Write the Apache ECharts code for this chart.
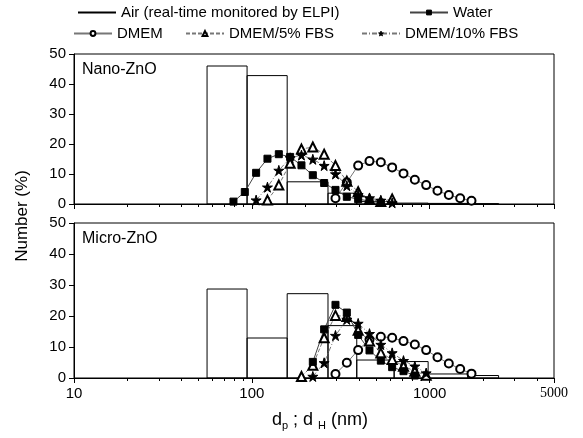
<!DOCTYPE html>
<html>
<head>
<meta charset="utf-8">
<script src="https://cdn.jsdelivr.net/npm/echarts@6/dist/echarts.min.js"></script>
<style>
  html, body { margin: 0; padding: 0; background: #fff; }
  #chart { width: 583px; height: 438px; }
</style>
</head>
<body>
<div id="chart"></div>
<script>
var chart = echarts.init(document.getElementById('chart'));

// ELPI stage edges (nm) and the air histogram heights (%)
var elpiEdges = [56, 94, 158, 268, 389, 631, 980, 1640, 2440];
var nanoAir = [46.0, 42.8, 7.4, 3.6, 0.8, 0.3, 0.2, 0.1];
var microAir = [28.7, 12.9, 27.2, 16.9, 5.8, 5.3, 1.3, 0.8];

// DLS size classes (nm)
var dlsSizes = [78.82, 91.28, 105.7, 122.4, 141.8, 164.2, 190.1, 220.2, 255.0, 295.3, 342.0,
  396.1, 458.7, 531.2, 615.1, 712.4, 825.0, 955.4, 1106, 1281, 1484, 1718];

// each series: first size class index + values (%)
var nanoWaterStart = 0, nanoWater = [0.8, 4.0, 10.4, 15.1, 16.6, 15.7, 12.9, 9.6, 7.0, 4.7, 2.4, 1.6, 1.0, 0.4];
var nanoDmemStart = 9, nanoDmem = [1.9, 7.2, 12.8, 14.3, 13.9, 12.2, 10.2, 8.1, 6.3, 4.4, 3.0, 1.9, 1.1];
var nanoFbs5Start = 3, nanoFbs5 = [1.3, 6.3, 13.6, 18.3, 19.0, 16.6, 12.8, 7.6, 4.1, 1.6, 0.8, 1.7];
var nanoFbs10Start = 2, nanoFbs10 = [1.3, 5.6, 11.2, 15.4, 16.3, 14.9, 12.8, 10.0, 6.1, 3.1, 2.0, 1.2, 0.4];

var microWaterStart = 7, microWater = [5.2, 15.7, 23.6, 21.1, 13.9, 8.9, 5.6, 3.5, 2.2, 0.8];
var microDmemStart = 9, microDmem = [1.3, 4.9, 9.0, 12.4, 13.3, 13.0, 11.9, 10.8, 9.0, 6.7, 4.7, 2.9, 1.4];
var microFbs5Start = 6, microFbs5 = [0.5, 4.1, 13.0, 20.2, 19.8, 15.4, 11.9, 8.1, 6.0, 3.8, 2.2, 0.9];
var microFbs10Start = 7, microFbs10 = [0.5, 4.9, 13.7, 18.9, 17.6, 14.3, 10.8, 8.1, 5.6, 3.8, 1.6];

var xLabels = [10, 100, 1000, 5000];
var xMinor = [20, 30, 40, 50, 60, 70, 80, 90, 200, 300, 400, 500, 600, 700, 800, 900, 2000, 3000, 4000];

var FONT = 'Liberation Sans, Arial, sans-serif';
var STAR = 'path://M50,0 L61,35 L98,35 L68,57 L79,91 L50,70 L21,91 L32,57 L2,35 L39,35 Z';

function pairs(start, vals) {
  return vals.map(function (v, i) { return [dlsSizes[start + i], v]; });
}
function bins(vals) {
  return vals.map(function (v, i) { return [elpiEdges[i], elpiEdges[i + 1], v]; });
}

// air histogram: one outlined box per ELPI stage
function histogram(idx, vals) {
  return {
    name: 'Air (real-time monitored by ELPI)',
    type: 'custom',
    xAxisIndex: idx * 2, yAxisIndex: idx,
    data: bins(vals),
    encode: { x: [0, 1], y: 2 },
    z: 1,
    renderItem: function (params, api) {
      var p0 = api.coord([api.value(0), api.value(2)]);
      var p1 = api.coord([api.value(1), 0]);
      return {
        type: 'rect',
        shape: { x: p0[0], y: p0[1], width: p1[0] - p0[0], height: p1[1] - p0[1] },
        style: { fill: 'none', stroke: '#000', lineWidth: 1 }
      };
    }
  };
}

function dls(idx, name, data, symbol, size, lineColor, lineType) {
  return {
    name: name,
    type: 'line',
    xAxisIndex: idx * 2, yAxisIndex: idx,
    data: data,
    symbol: symbol,
    symbolSize: size,
    showAllSymbol: true,
    z: 3,
    itemStyle: { color: '#000', borderColor: '#000', borderWidth: 1 },
    lineStyle: { color: lineColor, width: 1, type: lineType }
  };
}

function mainX(idx, showLabels) {
  return {
    type: 'log', logBase: 10, gridIndex: idx, min: 10, max: 5000,
    axisLine: { lineStyle: { color: '#000', width: 1 } },
    axisTick: { length: 5, inside: false, customValues: xLabels, lineStyle: { color: '#000' } },
    axisLabel: {
      show: showLabels, customValues: xLabels, margin: 8,
      color: '#000', fontSize: 15, fontFamily: FONT,
      formatter: function (v) {
        var r = Math.round(v);
        return r === 5000 ? '{s|5000}' : String(r);
      },
      rich: { s: { fontFamily: 'Liberation Serif, Times New Roman, serif', fontSize: 14, color: '#000' } }
    },
    splitLine: { show: false }
  };
}
// second axis only for the short minor ticks
function minorX(idx) {
  return {
    type: 'log', logBase: 10, gridIndex: idx, min: 10, max: 5000, position: 'bottom',
    axisLine: { show: false },
    axisTick: { length: 3, customValues: xMinor, lineStyle: { color: '#000' } },
    axisLabel: { show: false },
    splitLine: { show: false }
  };
}
function yAx(idx) {
  return {
    type: 'value', gridIndex: idx, min: 0, max: 50, interval: 10,
    axisLine: { show: true, lineStyle: { color: '#000', width: 1 } },
    axisTick: { show: true, length: 5, lineStyle: { color: '#000' } },
    axisLabel: { color: '#000', fontSize: 15, fontFamily: FONT, margin: 8 },
    splitLine: { show: false }
  };
}

function legendItem(name, left, top, hideSymbol) {
  return {
    data: [name], left: left, top: top, padding: 0,
    itemWidth: 38, itemHeight: 6, selectedMode: false,
    itemStyle: hideSymbol ? { opacity: 0 } : { borderWidth: 1 },
    textStyle: { color: '#000', fontSize: 15, fontFamily: FONT }
  };
}

var option = {
  animation: false,
  backgroundColor: '#fff',
  legend: [
    legendItem('Air (real-time monitored by ELPI)', 77, 5, true),
    legendItem('Water', 409, 5),
    legendItem('DMEM', 73, 26),
    legendItem('DMEM/5% FBS', 185, 26),
    legendItem('DMEM/10% FBS', 361, 26)
  ],
  grid: [
    { left: 74, top: 54, width: 480, height: 150, show: true, borderColor: '#000', borderWidth: 1, backgroundColor: 'transparent' },
    { left: 74, top: 223, width: 480, height: 155, show: true, borderColor: '#000', borderWidth: 1, backgroundColor: 'transparent' }
  ],
  xAxis: [mainX(0, false), minorX(0), mainX(1, true), minorX(1)],
  yAxis: [yAx(0), yAx(1)],
  graphic: [
    { type: 'text', left: 82, top: 62, style: { text: 'Nano-ZnO', fill: '#000', font: '16px ' + FONT } },
    { type: 'text', left: 82, top: 231, style: { text: 'Micro-ZnO', fill: '#000', font: '16px ' + FONT } },
    {
      type: 'text', x: 22, y: 216, rotation: Math.PI / 2,
      style: { text: 'Number (%)', fill: '#000', font: '17px ' + FONT, align: 'center', verticalAlign: 'middle' }
    },
    {
      type: 'text', x: 320, y: 420,
      style: {
        text: 'd{s|p} ; d {s|H} (nm)', fill: '#000', font: '18px ' + FONT,
        align: 'center', verticalAlign: 'middle',
        rich: { s: { fontSize: 11, fontFamily: FONT, fill: '#000', padding: [12, 0, 0, 0] } }
      }
    }
  ],
  series: [
    {
      name: 'Air (real-time monitored by ELPI)', type: 'line', xAxisIndex: 0, yAxisIndex: 0,
      data: [], symbol: 'none', lineStyle: { color: '#000', width: 1 }, itemStyle: { color: '#000' }
    },
    histogram(0, nanoAir),
    dls(0, 'DMEM', pairs(nanoDmemStart, nanoDmem), 'emptyCircle', 8, '#777', 'solid'),
    dls(0, 'DMEM/5% FBS', pairs(nanoFbs5Start, nanoFbs5), 'emptyTriangle', 9, '#777', [4, 2]),
    dls(0, 'DMEM/10% FBS', pairs(nanoFbs10Start, nanoFbs10), STAR, 10, '#777', [5, 2, 1, 2]),
    dls(0, 'Water', pairs(nanoWaterStart, nanoWater), 'rect', 7, '#444', 'solid'),
    histogram(1, microAir),
    dls(1, 'DMEM', pairs(microDmemStart, microDmem), 'emptyCircle', 8, '#777', 'solid'),
    dls(1, 'DMEM/5% FBS', pairs(microFbs5Start, microFbs5), 'emptyTriangle', 9, '#777', [4, 2]),
    dls(1, 'DMEM/10% FBS', pairs(microFbs10Start, microFbs10), STAR, 10, '#777', [5, 2, 1, 2]),
    dls(1, 'Water', pairs(microWaterStart, microWater), 'rect', 7, '#444', 'solid')
  ]
};

chart.setOption(option);
</script>
</body>
</html>
